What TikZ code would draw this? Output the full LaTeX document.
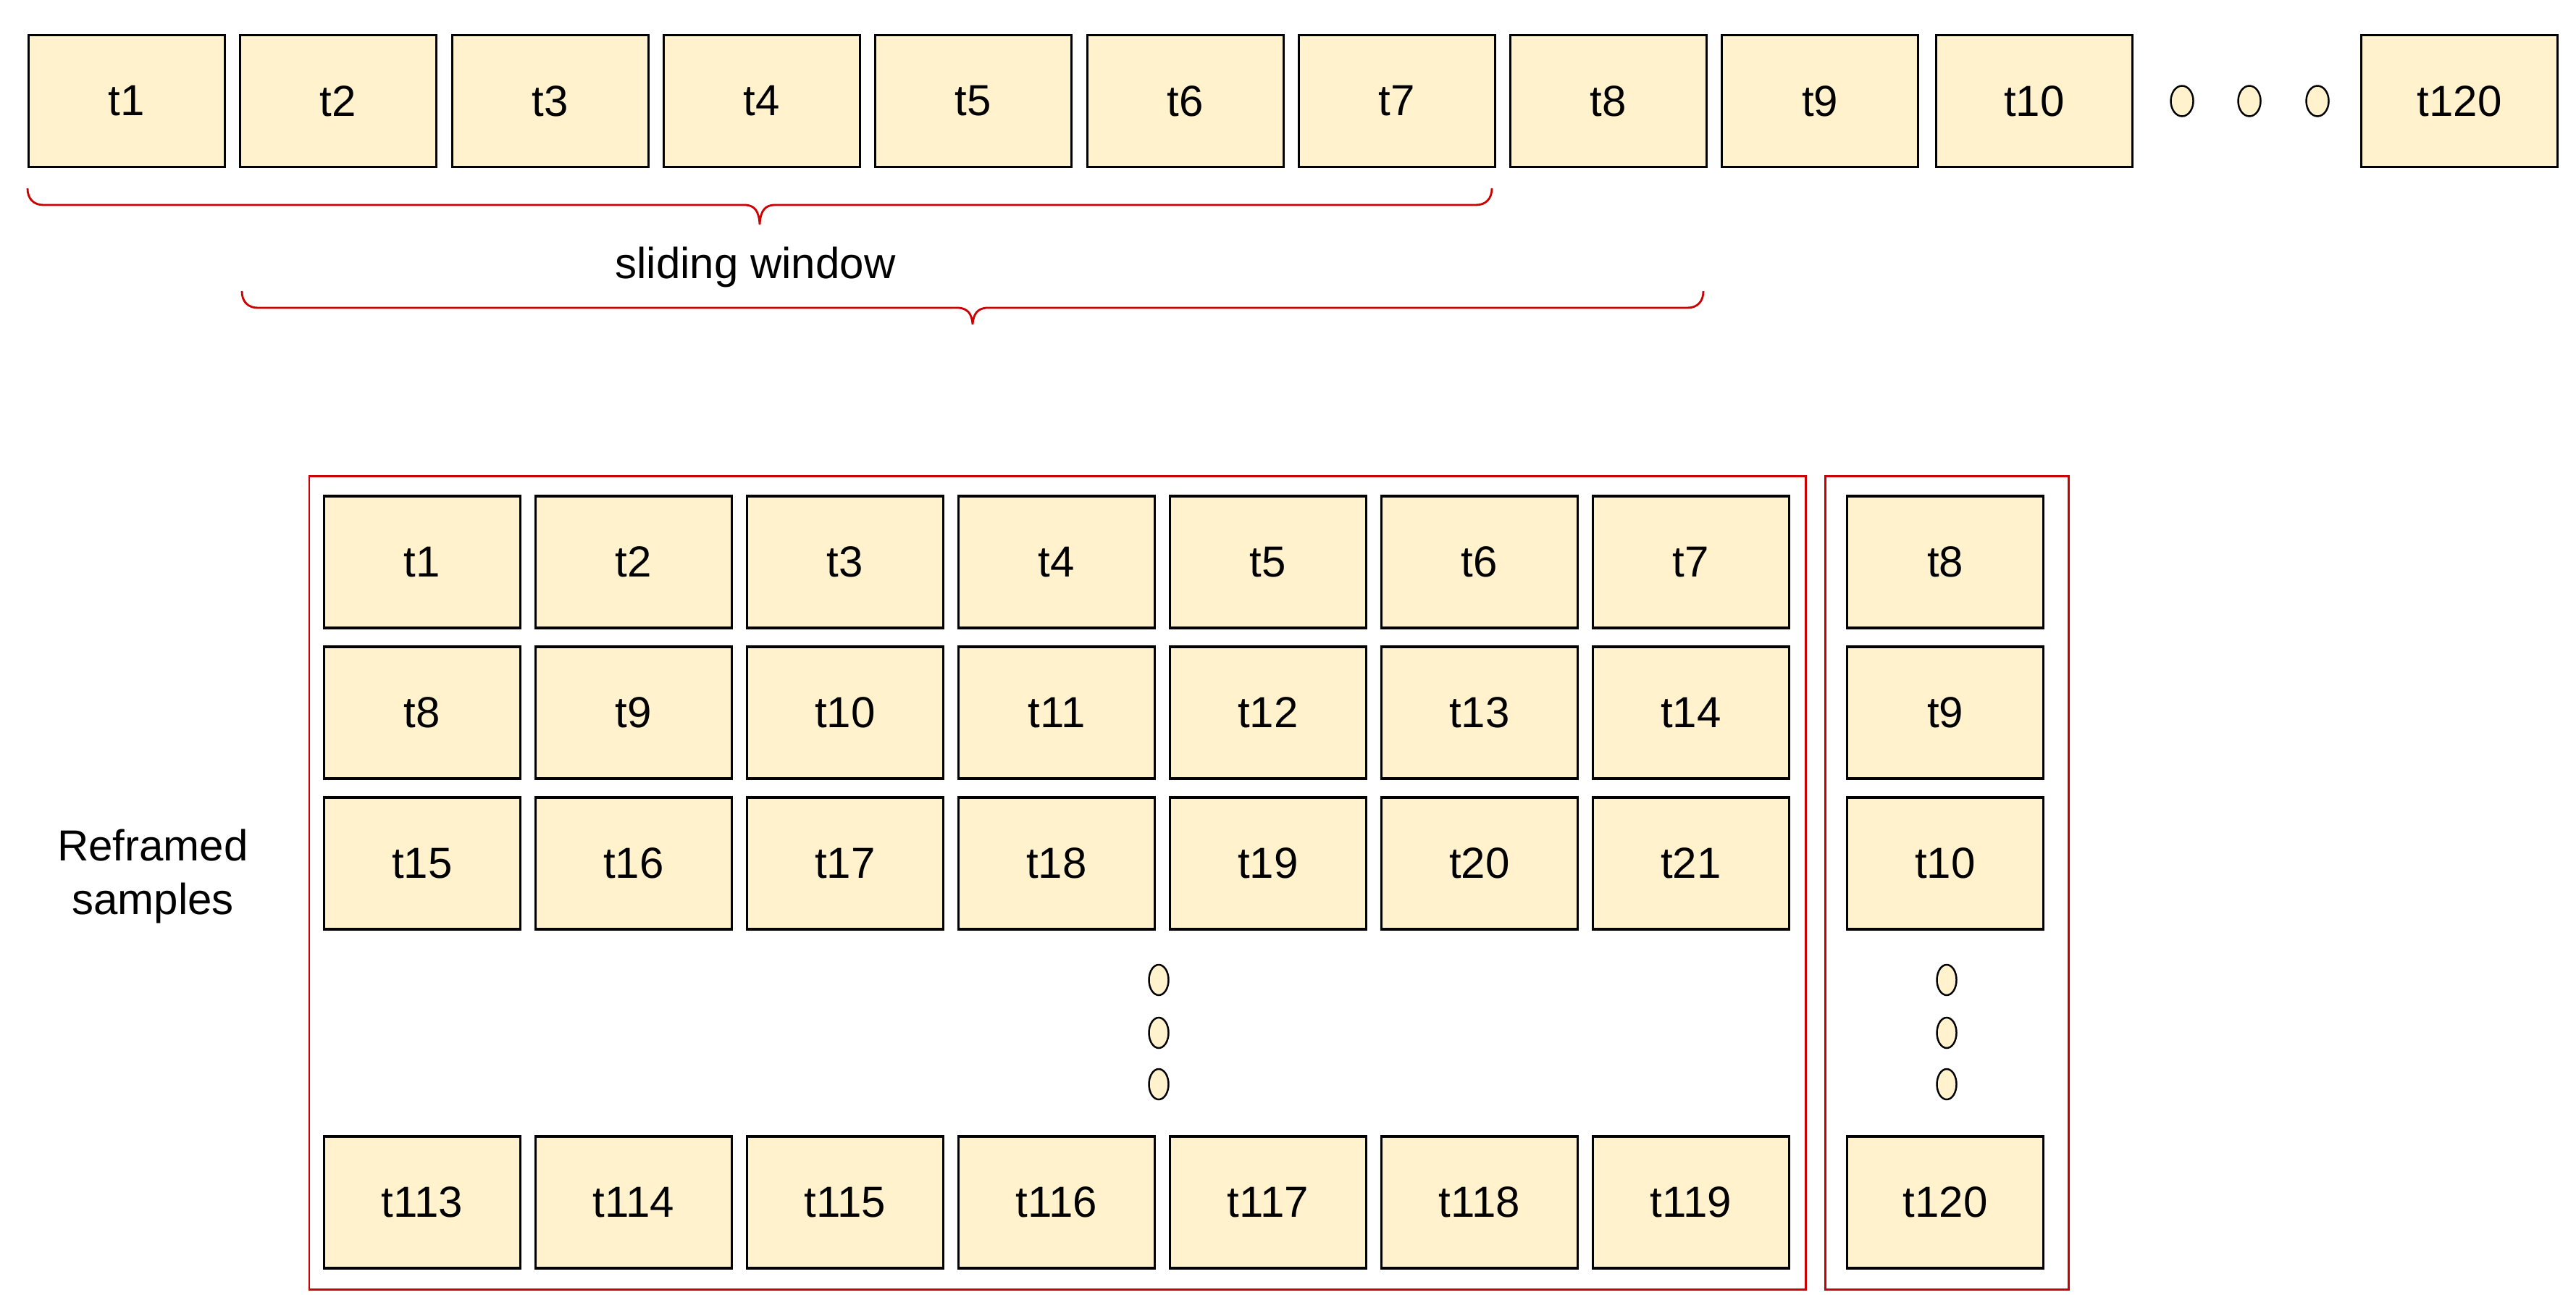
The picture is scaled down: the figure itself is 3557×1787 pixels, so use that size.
\documentclass[tikz,border=0pt]{standalone}
\usepackage{fontspec}
\setmainfont{Liberation Sans}
\usetikzlibrary{shapes.geometric}
\definecolor{cellfill}{HTML}{FFF2CC}
\definecolor{framered}{HTML}{CC0000}
\newcommand\gbrace[4]{% x0, x1, ytop, depth of tip
  \draw[bracestyle] (#1,#3) .. controls ({#1},{#3+14}) and ({#1+8},{#3+23}) .. ({#1+22},{#3+23})
    -- ({(#1+#2)/2-19},{#3+23}) .. controls ({(#1+#2)/2-8},{#3+24}) and ({(#1+#2)/2-1},{#3+30}) .. ({(#1+#2)/2},{#3+23+#4})
    .. controls ({(#1+#2)/2+1},{#3+30}) and ({(#1+#2)/2+8},{#3+24}) .. ({(#1+#2)/2+19},{#3+23})
    -- ({#2-22},{#3+23}) .. controls ({#2-8},{#3+23}) and ({#2},{#3+14}) .. ({#2},{#3});
}
\begin{document}
\begin{tikzpicture}[x=0.01cm,y=-0.01cm,
  cell/.style={draw=black,line width=1.05pt,fill=cellfill,rectangle,inner sep=0pt,
    minimum width=2.71cm,minimum height=1.82cm,font=\fontsize{17.07}{21}\selectfont},
  hdot/.style={draw=black,line width=0.7pt,fill=cellfill,ellipse,inner sep=0pt,
    minimum width=0.31cm,minimum height=0.42cm},
  vdot/.style={draw=black,line width=0.7pt,fill=cellfill,ellipse,inner sep=0pt,
    minimum width=0.27cm,minimum height=0.42cm},
  bracestyle/.style={draw=framered,line width=0.8pt},
  redframe/.style={draw=framered,line width=0.85pt},
  lbl/.style={font=\fontsize{17.07}{21}\selectfont,inner sep=0pt,align=center}]
\useasboundingbox[fill=white] (0,0) rectangle (3557,1787);

% top row
\foreach \lab/\x [count=\i] in {t1/175,t2/467,t3/760,t4/1052,t5/1344,t6/1637,t7/1929,t8/2221,t9/2513,t10/2809,t120/3396}
  \node[cell] (top\i) at (\x,139.5) {\lab};
\node[hdot] (td1) at (3013,139.5) {};
\node[hdot] (td2) at (3106,139.5) {};
\node[hdot] (td3) at (3200,139.5) {};

% braces
\gbrace{38}{2060}{260}{27}
\gbrace{334}{2352}{402}{23}
\node[lbl] (sw) at (1043,369) {sliding window};

% frames
\draw[redframe] (427,657) rectangle (2493,1780);
\draw[redframe] (2520,657) rectangle (2856,1780);

% grid
\foreach \r/\y/\labs in {1/776/{t1,t2,t3,t4,t5,t6,t7},2/984/{t8,t9,t10,t11,t12,t13,t14},3/1192/{t15,t16,t17,t18,t19,t20,t21},4/1660/{t113,t114,t115,t116,t117,t118,t119}}{
  \foreach \lab [count=\c] in \labs {
    \pgfmathsetmacro\xx{583+292*(\c-1)}
    \node[cell] (g\r c\c) at (\xx,\y) {\lab};
  }
}
\node[cell] (y1) at (2686,776) {t8};
\node[cell] (y2) at (2686,984) {t9};
\node[cell] (y3) at (2686,1192) {t10};
\node[cell] (y4) at (2686,1660) {t120};

\node[vdot] (gd1) at (1600,1353) {};
\node[vdot] (gd2) at (1600,1426) {};
\node[vdot] (gd3) at (1600,1497) {};
\node[vdot] (yd1) at (2688,1353) {};
\node[vdot] (yd2) at (2688,1426) {};
\node[vdot] (yd3) at (2688,1497) {};

\node[lbl,text width=4cm] (rs) at (211,1210) {Reframed\\samples};
\end{tikzpicture}
\end{document}
